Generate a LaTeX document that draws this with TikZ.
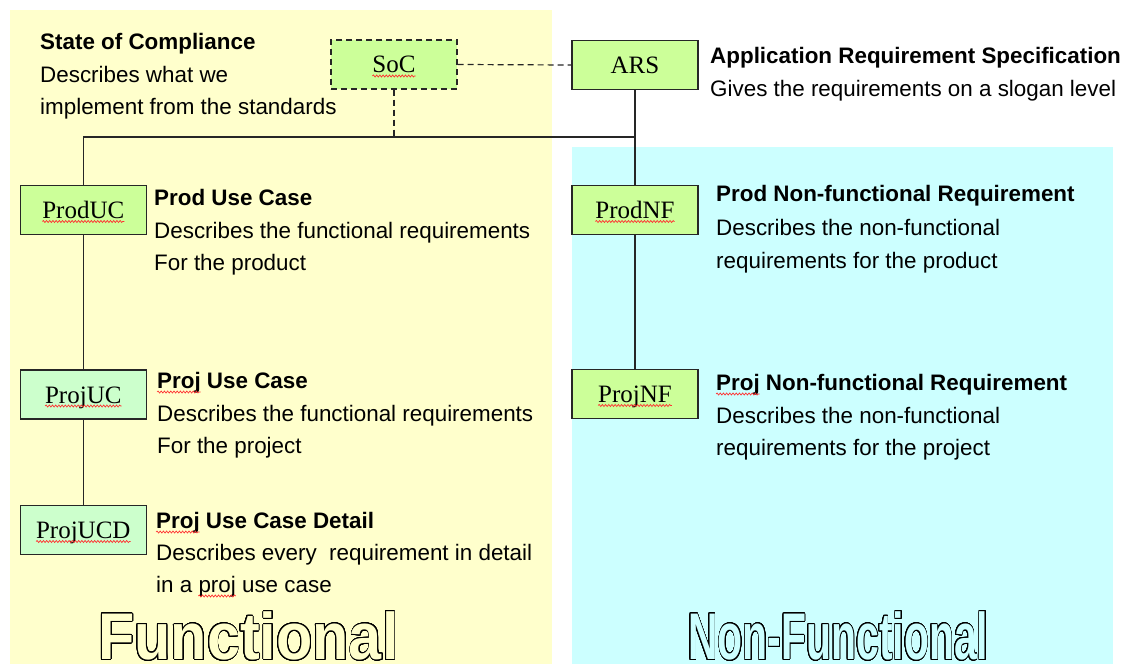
\documentclass[tikz,border=0pt]{standalone}
\usepackage{fontspec}
\setmainfont{Liberation Sans}
\newfontfamily\boxfamily{Liberation Serif}
\usepackage{graphicx}
\usepackage{contour}
\usetikzlibrary{decorations.pathmorphing}
\definecolor{ylw}{HTML}{FFFFCC}
\definecolor{cyn}{HTML}{CCFFFF}
\definecolor{lgreen}{HTML}{CCFF99}
\definecolor{mint}{HTML}{CCFFCC}
\definecolor{wavered}{HTML}{FF3030}
\newcommand\boxfnt{\boxfamily\fontsize{25}{25}\selectfont}
\newcommand\txtfnt{\fontsize{22.4}{32}\selectfont}
\newcommand\bigfnt{\bfseries\fontsize{66}{66}\selectfont}
\newlength\wSoC \newlength\wProdUC \newlength\wProdNF
\newlength\wProjUC \newlength\wProjNF \newlength\wProjUCD
\newlength\wProjB \newlength\wIna \newlength\wproj
\contourlength{1pt}
\contournumber{32}
\begin{document}
\settowidth{\wSoC}{\boxfnt SoC}%
\settowidth{\wProdUC}{\boxfnt ProdUC}%
\settowidth{\wProdNF}{\boxfnt ProdNF}%
\settowidth{\wProjUC}{\boxfnt ProjUC}%
\settowidth{\wProjNF}{\boxfnt ProjNF}%
\settowidth{\wProjUCD}{\boxfnt ProjUCD}%
\settowidth{\wProjB}{\txtfnt\bfseries Proj}%
\settowidth{\wIna}{\txtfnt in a\ }%
\settowidth{\wproj}{\txtfnt proj}%
\begin{tikzpicture}[x=1pt,y=-1pt,
  reqbox/.style={draw=black!85, line width=1.3pt, fill=lgreen, minimum width=126pt,
    minimum height=49pt, inner sep=0pt, text height=17pt, text depth=0pt, font=\boxfnt},
  conn/.style={draw=black!85, line width=1.2pt},
  dconn/.style={conn, dash pattern=on 6pt off 4pt},
  ttl/.style={anchor=base west, inner sep=0pt, font=\txtfnt\bfseries},
  dsc/.style={anchor=base west, inner sep=0pt, font=\txtfnt},
  squig/.style={draw=wavered, line width=0.7pt, decorate,
    decoration={snake, amplitude=1pt, segment length=3.2pt}},
  bigword/.style={anchor=base west, inner sep=0pt, font=\bigfnt}
]
\useasboundingbox (0,0) rectangle (1128,666);
% panels
\fill[ylw] (10,10) rectangle (552,664);
\fill[cyn] (572,147) rectangle (1113,664);

% boxes
\node[reqbox, dash pattern=on 6pt off 4pt] (SoC) at (394,64.5) {SoC};
\node[reqbox] (ARS) at (635,65) {ARS};
\node[reqbox] (ProdUC) at (83.3,210) {ProdUC};
\node[reqbox] (ProdNF) at (635,210) {ProdNF};
\node[reqbox, fill=mint] (ProjUC) at (83.3,394.5) {ProjUC};
\node[reqbox] (ProjNF) at (635,394) {ProjNF};
\node[reqbox, fill=mint] (ProjUCD) at (83.3,530) {ProjUCD};

% connectors
\coordinate (jR) at (635,137);
\draw[dconn] (SoC.east) -- (ARS.west);
\draw[dconn] (SoC.south) -- (SoC.south |- jR);
\draw[conn] (ARS.south) -- (ProdNF.north);
\draw[conn] (ProdUC.north) |- (jR);
\draw[conn] (ProdUC.south) -- (ProjUC.north);
\draw[conn] (ProjUC.south) -- (ProjUCD.north);
\draw[conn] (ProdNF.south) -- (ProjNF.north);

% spell-check squiggles under box labels
\foreach \n/\w in {SoC/\wSoC, ProdUC/\wProdUC, ProdNF/\wProdNF, ProjUC/\wProjUC, ProjNF/\wProjNF, ProjUCD/\wProjUCD}{
  \draw[squig] ([xshift=-0.5\w,yshift=-11.5pt]\n.center) -- ([xshift=0.5\w,yshift=-11.5pt]\n.center);
}

% texts
\node[ttl] (socT) at (40,50) {State of Compliance};
\node[dsc] (socD1) at (40,83) {Describes what we};
\node[dsc] (socD2) at (40,115) {implement from the standards};

\node[ttl] (arsT) at (710,64) {Application Requirement Specification};
\node[dsc] (arsD1) at (710,97) {Gives the requirements on a slogan level};

\node[ttl] (pucT) at (154,205) {Prod Use Case};
\node[dsc] (pucD1) at (154,238) {Describes the functional requirements};
\node[dsc] (pucD2) at (154,270) {For the product};

\node[ttl] (jucT) at (157,388) {Proj Use Case};
\node[dsc] (jucD1) at (157,421) {Describes the functional requirements};
\node[dsc] (jucD2) at (157,453) {For the project};

\node[ttl] (jcdT) at (156,528) {Proj Use Case Detail};
\node[dsc] (jcdD1) at (156,560) {Describes every\ \ requirement in detail};
\node[dsc] (jcdD2) at (156,592) {in a proj use case};

\node[ttl] (pnfT) at (716,202) {Prod Non-functional Requirement};
\node[dsc] (pnfD1) at (716,236) {Describes the non-functional};
\node[dsc] (pnfD2) at (716,268) {requirements for the product};

\node[ttl] (jnfT) at (716,390) {Proj Non-functional Requirement};
\node[dsc] (jnfD1) at (716,423) {Describes the non-functional};
\node[dsc] (jnfD2) at (716,455) {requirements for the project};

% squiggles under "Proj"/"proj" words
\foreach \n in {jucT, jcdT, jnfT}{
  \draw[squig] ([yshift=-4pt]\n.base west) -- ([xshift=\wProjB,yshift=-4pt]\n.base west);
}
\draw[squig] ([xshift=\wIna,yshift=-4pt]jcdD2.base west) -- ([xshift=\wIna+\wproj,yshift=-4pt]jcdD2.base west);

% big outlined words
\node[bigword] (fun) at (98,659.5) {\scalebox{0.90}[1]{\color{ylw}\contour{black}{Functional}}};
\node[bigword] (nonfun) at (688,659.5) {\scalebox{0.62}[1]{\color{cyn}\contour{black}{Non-Functional}}};
\end{tikzpicture}
\end{document}
